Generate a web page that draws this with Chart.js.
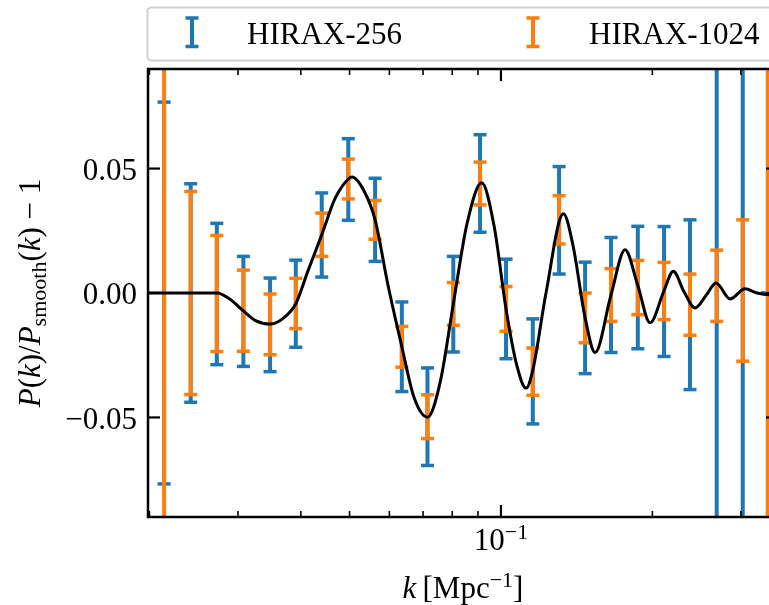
<!DOCTYPE html>
<html lang="en">
<head>
<meta charset="UTF-8">
<title>HIRAX BAO wiggles</title>
<style>
    html, body {
        margin: 0;
        padding: 0;
        background: #fff;
        overflow: hidden;
    }
</style>
<script src="https://cdn.jsdelivr.net/npm/chart.js"></script>
</head>
<body>
<canvas id="chart" width="790" height="605"></canvas>

<script>
// k bins [Mpc^-1] shared by both surveys
const kBins = [0.02139, 0.02416, 0.02723, 0.03075, 0.03475, 0.03909, 0.04402, 0.04971,
               0.0562, 0.06352, 0.07143, 0.0804, 0.09087, 0.10235, 0.1157, 0.1305,
               0.147, 0.1655, 0.1871, 0.211, 0.2376, 0.2685, 0.3025, 0.3392];

// HIRAX-256: centre and 1-sigma error
const hirax256 = [0, 0, -0.0004, -0.0074, -0.0128, -0.0043, 0.0233, 0.0456,
                  0.0294, -0.0216, -0.0497, -0.0045, 0.044, -0.0064, -0.0315, 0.0292,
                  -0.01, -0.0008, 0.0022, 0.0006, -0.0047, 0.0029, 0.001, 0];
const hirax256Err = [0.0767, 0.0439, 0.0284, 0.0221, 0.0188, 0.0175, 0.0169, 0.0164,
                     0.0167, 0.018, 0.0196, 0.0192, 0.0196, 0.02, 0.0211, 0.0216,
                     0.0224, 0.0231, 0.0246, 0.0261, 0.0341, 0.5, 0.5, 0];

// HIRAX-1024
const hirax1024 = [0, 0, -0.0002, -0.0071, -0.0126, -0.0042, 0.0234, 0.0458,
                   0.0294, -0.0216, -0.0497, -0.0044, 0.044, -0.0064, -0.0316, 0.0294,
                   -0.01, -0.0008, 0.0022, 0.0008, -0.0047, 0.0029, 0.001, 0];
const hirax1024Err = [0.5, 0.0408, 0.0233, 0.0163, 0.0122, 0.0101, 0.0087, 0.008,
                      0.0078, 0.0082, 0.0088, 0.0086, 0.0086, 0.009, 0.0095, 0.0097,
                      0.01, 0.0106, 0.0109, 0.0115, 0.0123, 0.0143, 0.0284, 0.5];

// model wiggle curve P(k)/P_smooth(k) - 1
const kModel = [0.01987, 0.02522, 0.02723, 0.02893, 0.03075, 0.0326, 0.03475, 0.03688,
                0.03909, 0.04135, 0.04402, 0.0468, 0.04971, 0.05058, 0.05343, 0.0562,
                0.05964, 0.06352, 0.06718, 0.07143, 0.07567, 0.0804, 0.08564, 0.09158,
                0.09689, 0.10235, 0.1075, 0.1122, 0.1157, 0.1229, 0.1331, 0.1391,
                0.147, 0.1539, 0.1655, 0.1765, 0.1871, 0.1979, 0.211, 0.2201,
                0.2312, 0.2432, 0.2557, 0.2677, 0.2855, 0.3057, 0.323, 0.3412, 0.3555];
const wiggleModel = [0, 0, 0, -0.0025, -0.0072, -0.0112, -0.0125, -0.0102,
                     -0.0043, 0.009, 0.0234, 0.038, 0.0458, 0.0466, 0.041, 0.0294,
                     0.003, -0.0216, -0.042, -0.0499, -0.036, -0.0044, 0.028, 0.0443,
                     0.027, -0.0064, -0.029, -0.0382, -0.031, 0.0, 0.0318, 0.019,
                     -0.01, -0.0239, -0.0008, 0.0174, 0.003, -0.012, 0.001, 0.0087,
                     0.0005, -0.006, -0.001, 0.004, -0.0024, 0.0017, 0, -0.0007, -0.0005];

const xMajorTicks = [0.1];
const xMinorTicks = [0.02, 0.03, 0.04, 0.05, 0.06, 0.07, 0.08, 0.09, 0.2, 0.3];
const yTicks = [-0.05, 0, 0.05];

const BLUE = '#1f77b4';
const ORANGE = '#ff7f0e';
const SERIF = '"Liberation Serif", "Times New Roman", serif';
const FS = 31;
const FS_SMALL = 22;

function seg(t, style) {
    return Object.assign({ t: t, italic: false, small: false, dy: 0 }, style || {});
}

function segFont(s) {
    return (s.italic ? 'italic ' : '') + (s.small ? FS_SMALL : FS) + 'px ' + SERIF;
}

// draws a row of text pieces centred on x, baseline at y
function drawRich(ctx, pieces, x, y) {
    let total = 0;
    pieces.forEach(p => { ctx.font = segFont(p); total += ctx.measureText(p.t).width; });
    let cx = x - total / 2;
    ctx.textAlign = 'left';
    ctx.textBaseline = 'alphabetic';
    pieces.forEach(p => {
        ctx.font = segFont(p);
        ctx.fillText(p.t, cx, y + p.dy);
        cx += ctx.measureText(p.t).width;
    });
}

function line(ctx, x1, y1, x2, y2) {
    ctx.beginPath();
    ctx.moveTo(x1, y1);
    ctx.lineTo(x2, y2);
    ctx.stroke();
}

function errorBar(ctx, px, top, bot) {
    ctx.lineWidth = 4;
    line(ctx, px, top, px, bot);
    ctx.lineWidth = 3.5;
    line(ctx, px - 6.5, top, px + 6.5, top);
    line(ctx, px - 6.5, bot, px + 6.5, bot);
}

function drawErrorBars(chart, values, errors, color) {
    const ctx = chart.ctx;
    const xs = chart.scales.x, ys = chart.scales.y;
    ctx.strokeStyle = color;
    kBins.forEach((k, i) => {
        errorBar(ctx, xs.getPixelForValue(k),
                 ys.getPixelForValue(values[i] + errors[i]),
                 ys.getPixelForValue(values[i] - errors[i]));
    });
}

const decor = {
    id: 'decor',
    beforeDatasetsDraw(chart) {
        const ctx = chart.ctx, a = chart.chartArea;
        ctx.save();
        ctx.beginPath();
        ctx.rect(a.left, a.top, a.right - a.left, a.bottom - a.top);
        ctx.clip();
        drawErrorBars(chart, hirax256, hirax256Err, BLUE);
        drawErrorBars(chart, hirax1024, hirax1024Err, ORANGE);
        ctx.restore();
    },
    afterDatasetsDraw(chart) {
        const ctx = chart.ctx, a = chart.chartArea;
        const xs = chart.scales.x, ys = chart.scales.y;
        ctx.save();
        ctx.strokeStyle = '#000';
        ctx.fillStyle = '#000';

        // ticks, pointing inwards on all four sides
        xs.ticks.forEach(t => {
            const px = xs.getPixelForValue(t.value);
            const len = t.major ? 12 : 6;
            ctx.lineWidth = t.major ? 2.2 : 1.6;
            line(ctx, px, a.bottom, px, a.bottom - len);
            line(ctx, px, a.top, px, a.top + len);
        });
        ctx.lineWidth = 2.2;
        ys.ticks.forEach(t => {
            const py = ys.getPixelForValue(t.value);
            line(ctx, a.left, py, a.left + 12, py);
            line(ctx, a.right, py, a.right - 12, py);
        });

        // frame
        ctx.lineWidth = 2.5;
        ctx.strokeRect(a.left, a.top, a.right - a.left, a.bottom - a.top);

        // x tick label 10^-1
        xMajorTicks.forEach(v => {
            drawRich(ctx, [seg('10'), seg('\u22121', { small: true, dy: -11 })],
                     xs.getPixelForValue(v), a.bottom + 33);
        });

        // x axis title
        drawRich(ctx, [seg('k', { italic: true }), seg('\u2009[Mpc'),
                       seg('\u22121', { small: true, dy: -11 }), seg(']')],
                 (a.left + a.right) / 2, a.bottom + 81);

        // y axis title
        ctx.save();
        ctx.translate(40, (a.top + a.bottom) / 2);
        ctx.rotate(-Math.PI / 2);
        drawRich(ctx, [seg('P', { italic: true }), seg('('), seg('k', { italic: true }),
                       seg(')/'), seg('P', { italic: true }),
                       seg('smooth', { small: true, dy: 6 }), seg('('),
                       seg('k', { italic: true }), seg(') \u2212 1')], 0, 0);
        ctx.restore();

        // legend
        ctx.lineWidth = 2;
        ctx.strokeStyle = '#d0d0d0';
        ctx.fillStyle = '#fff';
        ctx.beginPath();
        ctx.roundRect(a.left - 0.5, 7.5, a.right - a.left + 1, 53, 4);
        ctx.fill();
        ctx.stroke();
        ctx.strokeStyle = BLUE;
        errorBar(ctx, a.left + 44, 18, 46.5);
        ctx.strokeStyle = ORANGE;
        errorBar(ctx, a.left + 385, 18, 46.5);
        ctx.fillStyle = '#000';
        ctx.font = FS + 'px ' + SERIF;
        ctx.textAlign = 'left';
        ctx.textBaseline = 'alphabetic';
        ctx.fillText(chart.data.datasets[1].label, a.left + 99, 43.5);
        ctx.fillText(chart.data.datasets[2].label, a.left + 441, 43.5);
        ctx.restore();
    }
};

const ctx = document.getElementById('chart').getContext('2d');
new Chart(ctx, {
    type: 'line',
    data: {
        datasets: [
            {
                label: 'model',
                data: kModel.map((k, i) => ({ x: k, y: wiggleModel[i] })),
                borderColor: '#000',
                borderWidth: 3,
                pointRadius: 0,
                fill: false,
                cubicInterpolationMode: 'monotone'
            },
            {
                label: 'HIRAX-256',
                data: kBins.map((k, i) => ({ x: k, y: hirax256[i] })),
                showLine: false,
                pointRadius: 0,
                borderColor: BLUE
            },
            {
                label: 'HIRAX-1024',
                data: kBins.map((k, i) => ({ x: k, y: hirax1024[i] })),
                showLine: false,
                pointRadius: 0,
                borderColor: ORANGE
            }
        ]
    },
    options: {
        responsive: false,
        devicePixelRatio: 1,
        animation: false,
        layout: { padding: { top: 69, right: 12, left: 0, bottom: 0 } },
        plugins: {
            legend: { display: false },
            tooltip: { enabled: false }
        },
        scales: {
            x: {
                type: 'logarithmic',
                min: 0.01987,
                max: 0.3555,
                grid: { display: false },
                border: { display: false },
                ticks: { display: false },
                afterBuildTicks: s => {
                    s.ticks = xMinorTicks.concat(xMajorTicks).sort((p, q) => p - q)
                        .map(v => ({ value: v, major: xMajorTicks.includes(v) }));
                },
                afterFit: s => { s.height = 88; }
            },
            y: {
                min: -0.09,
                max: 0.09,
                grid: { display: false, drawTicks: false },
                border: { display: false },
                ticks: {
                    color: '#000',
                    padding: 11,
                    labelOffset: 3,
                    font: { family: SERIF, size: FS },
                    callback: v => v.toFixed(2).replace('-', '\u2212')
                },
                afterBuildTicks: s => { s.ticks = yTicks.map(v => ({ value: v })); },
                afterFit: s => { s.width = 148; }
            }
        }
    },
    plugins: [decor]
});
</script>
</body>
</html>
